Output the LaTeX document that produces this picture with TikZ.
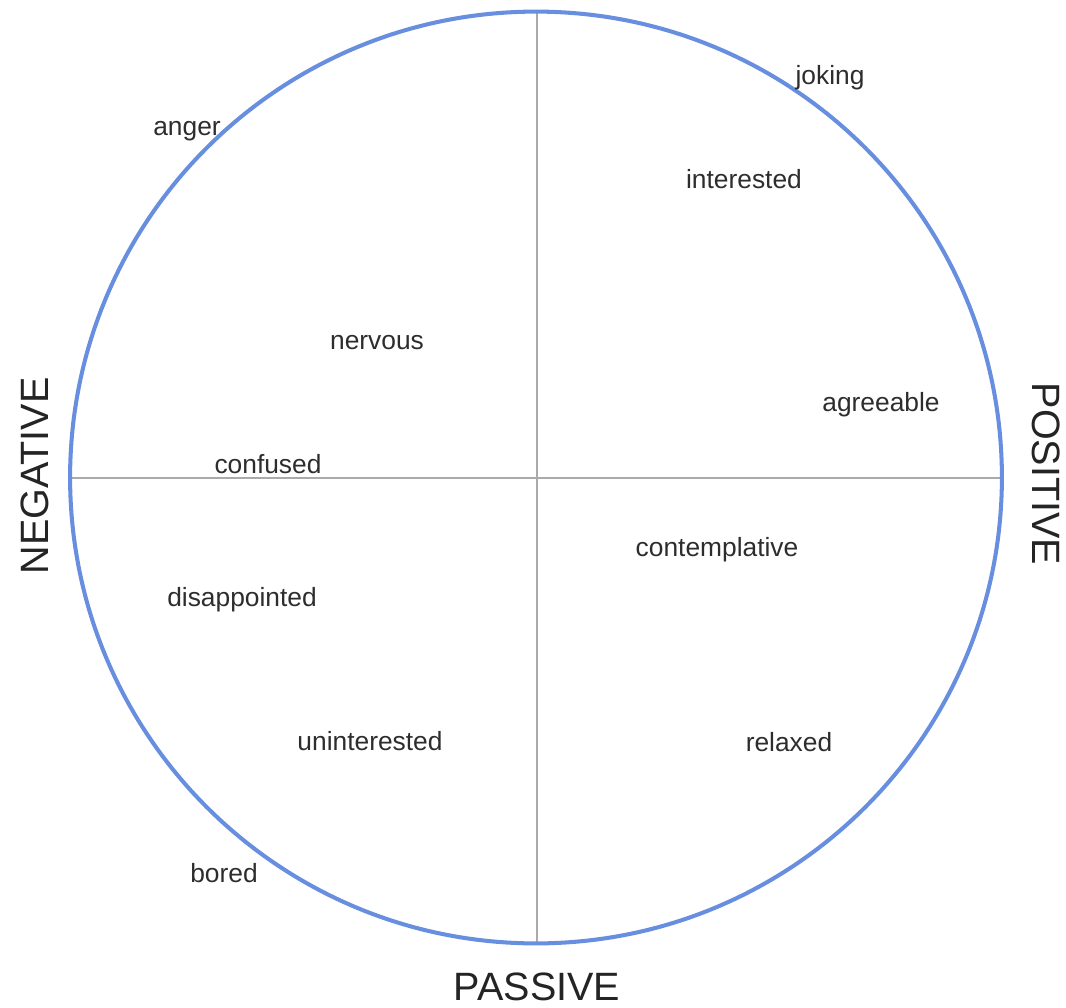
\documentclass[tikz,border=0pt]{standalone}
\usepackage{fontspec}
\setmainfont{Liberation Sans}
\definecolor{ringblue}{RGB}{104,142,224}
\definecolor{axisgray}{RGB}{170,170,170}
\definecolor{wordgray}{RGB}{45,45,45}
\tikzset{
  mood/.style={text=wordgray,font=\fontsize{15}{17}\selectfont,inner sep=0pt},
  pole/.style={text=wordgray!80!black,font=\fontsize{22.5}{25}\selectfont,inner sep=0pt}
}
\begin{document}
\begin{tikzpicture}[x=0.02cm,y=-0.02cm]
  \useasboundingbox (0,0) rectangle (1066,1008);
  % axes
  \coordinate (top) at (537,12);
  \coordinate (bottom) at (537,943);
  \coordinate (left) at (70,478);
  \coordinate (right) at (1002,478);
  \draw [axisgray,line width=1.1pt] (top) -- (bottom);
  \draw [axisgray,line width=1.1pt] (left) -- (right);
  \draw [ringblue,line width=2.3pt] (536,477.5) circle [radius=9.32cm];
  % poles
  \node [pole,rotate=90]  (neg) at (35,476)  {NEGATIVE};
  \node [pole,rotate=-90] (pos) at (1046,474) {POSITIVE};
  \node [pole]            (pas) at (537,987) {PASSIVE};
  % moods
  \node [mood] (anger)   at (187,131) {anger};
  \node [mood] (joking)  at (830,78)  {joking};
  \node [mood] (intr)    at (744,179) {interested};
  \node [mood] (nerv)    at (377,343) {nervous};
  \node [mood] (agree)   at (881,405) {agreeable};
  \node [mood] (conf)    at (268,464) {confused};
  \node [mood] (contemp) at (717,550) {contemplative};
  \node [mood] (disapp)  at (242,600) {disappointed};
  \node [mood] (unintr)  at (370,741) {uninterested};
  \node [mood] (relax)   at (789,742) {relaxed};
  \node [mood] (bored)   at (224,873) {bored};
\end{tikzpicture}
\end{document}
